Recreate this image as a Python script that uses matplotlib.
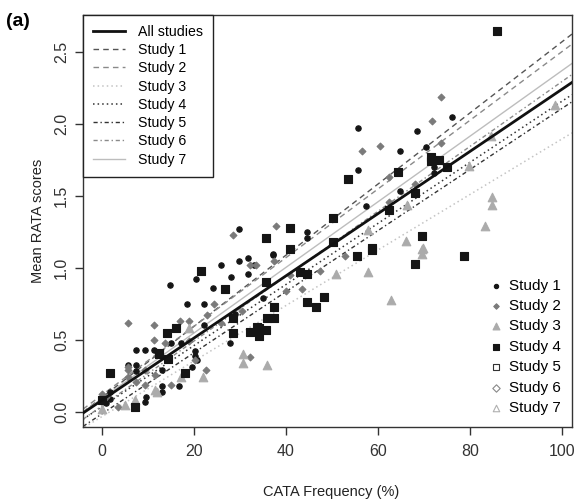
import matplotlib

matplotlib.use("Agg")
import matplotlib.pyplot as plt

plt.rcParams["font.family"] = ["Liberation Sans", "DejaVu Sans"]

# ---- regression lines (intercept, slope), one per study + pooled ----
LINE_LABELS = ["All studies", "Study 1", "Study 2", "Study 3", "Study 4",
               "Study 5", "Study 6", "Study 7"]
INTERCEPTS = [0.0795, 0.099, 0.116, -0.034, 0.035, -0.015, 0.040, 0.091]
SLOPES = [0.02162, 0.02472, 0.02387, 0.0193, 0.02123, 0.02123, 0.02255, 0.0228]

# ---- scatter data (CATA %, mean RATA) ----
S1_X = [76.1, 55.6, 68.5, 64.8, 70.4, 72.3, 72.3, 55.6, 64.8, 57.5, 44.5, 44.5, 29.8,
        20.4, 26.0, 29.8, 31.7, 37.2, 28.0, 31.7, 24.1, 14.8, 18.5, 22.2, 35.1, 7.5,
        9.3, 11.4, 22.2, 27.8, 20.2, 20.6, 16.7, 9.7, 9.3, 1.7, 7.5, 5.7, 44.9, 37.1,
        15.0, 17.2, 7.4, 13.0, 20.2, 19.5, 13.0, 13.0, 1.7, 0.8, 33.0, 29.0]
S1_Y = [2.05, 1.975, 1.95, 1.815, 1.84, 1.70, 1.66, 1.68, 1.535, 1.43, 1.25, 1.21, 1.27,
        0.925, 1.02, 1.05, 1.07, 1.10, 0.94, 0.96, 0.86, 0.88, 0.75, 0.75, 0.79, 0.43,
        0.43, 0.43, 0.60, 0.48, 0.42, 0.36, 0.18, 0.10, 0.07, 0.14, 0.325, 0.325, 0.955, 1.09,
        0.475, 0.475, 0.28, 0.29, 0.39, 0.31, 0.18, 0.14, 0.09, 0.06, 1.02, 0.68]

S2_X = [73.7, 71.8, 60.4, 56.6, 73.8, 62.4, 68.1, 62.4, 52.8, 47.4, 43.4, 37.8, 28.4,
        32.2, 33.5, 24.4, 5.7, 11.4, 11.4, 17.0, 19.0, 22.8, 32.2, 22.6, 0.0, 5.7, 7.5,
        37.5, 13.7, 19.0, 5.6, 5.6, 9.3, 20.2, 15.1, 11.5, 9.3, 3.6, 1.0, 26.0, 40.0,
        30.5, 41.0]
S2_Y = [2.19, 2.02, 1.85, 1.81, 1.87, 1.63, 1.58, 1.46, 1.085, 0.98, 0.85, 1.29, 1.23,
        1.02, 1.02, 0.75, 0.62, 0.60, 0.50, 0.63, 0.63, 0.67, 0.38, 0.29, 0.12, 0.29, 0.21,
        1.05, 0.475, 0.49, 0.31, 0.24, 0.29, 0.36, 0.185, 0.255, 0.185, 0.035, 0.10, 0.62, 0.84,
        0.70, 0.95]

S3_X = [79.8, 84.7, 66.4, 84.9, 84.9, 83.3, 66.2, 69.9, 57.9, 69.6, 69.6, 50.9, 57.8,
        62.9, 19.0, 30.6, 30.6, 35.8, 22.0, 17.3, 11.9, 0.0, 11.5, 5.0, 7.2, 98.5]
S3_Y = [1.71, 1.92, 1.44, 1.49, 1.44, 1.29, 1.19, 1.14, 1.26, 1.13, 1.10, 0.96, 0.97,
        0.78, 0.58, 0.40, 0.34, 0.325, 0.24, 0.24, 0.14, 0.02, 0.15, 0.05, 0.08, 2.13]

S4_X = [85.8, 71.6, 71.6, 73.3, 53.5, 64.3, 75.1, 68.1, 62.5, 69.6, 50.2, 50.2, 58.8,
        55.4, 58.8, 68.1, 78.7, 44.6, 44.6, 46.5, 48.3, 43.0, 41.0, 41.0, 35.7, 21.5,
        26.7, 35.7, 37.5, 16.1, 14.2, 12.5, 28.4, 28.5, 32.2, 34.1, 34.1, 35.7, 37.5,
        35.8, 18.0, 1.7, 7.2, 0.0, 12.4, 14.3, 33.8]
S4_Y = [2.65, 1.77, 1.74, 1.75, 1.62, 1.67, 1.70, 1.52, 1.40, 1.22, 1.35, 1.18, 1.14,
        1.085, 1.125, 1.03, 1.085, 0.955, 0.76, 0.73, 0.80, 0.97, 1.28, 1.13, 1.205, 0.98,
        0.85, 0.90, 0.73, 0.58, 0.55, 0.40, 0.65, 0.55, 0.556, 0.58, 0.53, 0.57, 0.65,
        0.65, 0.27, 0.27, 0.035, 0.08, 0.41, 0.37, 0.59]

# studies 5-7 have no visible points in the panel
S5_X, S5_Y = [], []
S6_X, S6_Y = [], []
S7_X, S7_Y = [], []

LINE_STYLES = [
    ("#111111", "-", 2.0),
    ("#555555", (0, (4, 3)), 1.0),
    ("#8a8a8a", (0, (4, 3)), 1.0),
    ("#c4c4c4", (0, (1, 2)), 1.1),
    ("#333333", (0, (1, 2)), 1.1),
    ("#333333", (0, (3, 2, 1, 2)), 1.0),
    ("#8a8a8a", (0, (3, 2, 1, 2)), 1.0),
    ("#bdbdbd", "-", 1.0),
]


def main():
    fig = plt.figure(figsize=(5.76, 5.0), dpi=100)
    ax = fig.add_axes([83 / 576, 1 - 427 / 500, (572 - 83) / 576, (427 - 15) / 500])

    pts = [
        (S1_X, S1_Y, "o", "#151515", "#151515", 15),
        (S2_X, S2_Y, "D", "#7a7a7a", "#7a7a7a", 12),
        (S3_X, S3_Y, "^", "#ababab", "#ababab", 38),
        (S4_X, S4_Y, "s", "#151515", "#151515", 38),
        (S5_X, S5_Y, "s", "white", "#333333", 22),
        (S6_X, S6_Y, "D", "white", "#888888", 22),
        (S7_X, S7_Y, "^", "white", "#b0b0b0", 34),
    ]
    pt_handles = []
    for i, (xs, ys, mk, fc, ec, s) in enumerate(pts):
        h = ax.scatter(xs, ys, marker=mk, s=s, facecolor=fc, edgecolor=ec,
                       linewidths=0.8, zorder=3, label=f"Study {i + 1}")
        pt_handles.append(h)

    line_handles = []
    for lab, b, m, (col, ls, lw) in zip(LINE_LABELS, INTERCEPTS, SLOPES, LINE_STYLES):
        h = ax.axline((0, b), slope=m, color=col, ls=ls, lw=lw, label=lab,
                      zorder=4 if lab == "All studies" else 2)
        line_handles.append(h)

    ax.set_xlim(-4.1, 102.2)
    ax.set_ylim(-0.106, 2.758)
    ax.set_xticks([0, 20, 40, 60, 80, 100])
    ax.set_yticks([0.0, 0.5, 1.0, 1.5, 2.0, 2.5])
    ax.set_yticklabels(["0.0", "0.5", "1.0", "1.5", "2.0", "2.5"], rotation=90, va="center")
    ax.tick_params(labelsize=11.5, length=6, width=1, color="#333333", labelcolor="#333333")
    ax.tick_params(axis="y", pad=4)
    ax.tick_params(axis="x", pad=6)
    for sp in ax.spines.values():
        sp.set_color("#333333")
        sp.set_linewidth(1.0)

    leg1 = ax.legend(handles=line_handles, loc="upper left", bbox_to_anchor=(0, 1),
                     borderaxespad=0, fontsize=10.2, frameon=True, fancybox=False,
                     edgecolor="#222222", framealpha=1, handlelength=2.3,
                     labelspacing=0.3, borderpad=0.7, handletextpad=0.9)
    leg1.get_frame().set_linewidth(1.0)
    ax.add_artist(leg1)
    ax.legend(handles=pt_handles, loc="lower right", bbox_to_anchor=(1.0, 0.003),
              fontsize=11, frameon=False, handlelength=0.8, handletextpad=0.5,
              labelspacing=0.42, borderaxespad=0.3, markerscale=0.8)

    fig.text(38 / 576, 1 - 221 / 500, "Mean RATA scores", rotation=90,
             ha="center", va="center", fontsize=10.5, color="#222222")
    fig.text(331 / 576, 1 - 492 / 500, "CATA Frequency (%)",
             ha="center", va="center", fontsize=10.5, color="#222222")
    fig.text(6 / 576, 1 - 22 / 500, "(a)", ha="left", va="center",
             fontsize=14, fontweight="bold")

    fig.savefig("out.png", dpi=100)


if __name__ == "__main__":
    main()
